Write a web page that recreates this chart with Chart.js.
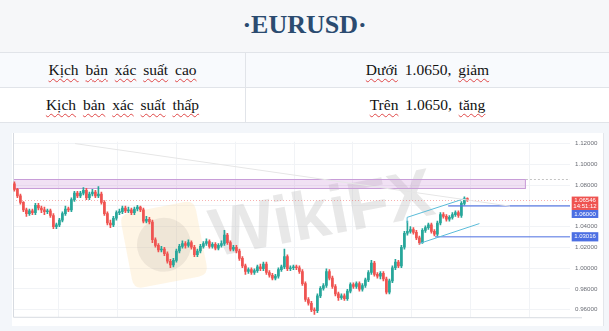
<!DOCTYPE html>
<html><head><meta charset="utf-8">
<script src="https://cdn.jsdelivr.net/npm/chart.js@4.4.1/dist/chart.umd.min.js"></script>
<style>
html,body{margin:0;padding:0;}
body{width:609px;height:331px;overflow:hidden;background:#f3f6fa;position:relative;font-family:"Liberation Serif","Times New Roman",serif;}
#title{position:absolute;left:0;top:0;width:609px;height:52px;background:#f6f7f9;text-align:center;line-height:50px;font-weight:bold;font-size:26px;color:#2b4b70;}
.row{position:absolute;left:0;width:609px;height:35px;border-top:1px solid #e1e4e9;}
.cell{position:absolute;top:0;height:35px;line-height:34px;text-align:center;font-size:15.5px;color:#111;word-spacing:3px;}
.c1{left:0;width:245px;border-right:1px solid #e1e4e9;}
.c2{left:246px;width:363px;}
.w{text-decoration:underline wavy #e04848;text-decoration-thickness:1px;text-underline-offset:3px;text-decoration-skip-ink:none;}
#bottomline{position:absolute;left:0;top:122px;width:609px;height:1px;background:#e1e4e9;}
#panel{position:absolute;left:12px;top:133px;width:592px;height:193px;background:#fff;}
</style></head>
<body>
<div id="title">·EURUSD·</div>
<div class="row" style="top:52px;background:#f8fafd;">
  <div class="cell c1"><span class="w">Kịch</span> <span class="w">bản</span> <span class="w">xác</span> <span class="w">suất</span> <span class="w">cao</span></div>
  <div class="cell c2"><span class="w">Dưới</span> 1.0650, <span class="w">giảm</span></div>
</div>
<div class="row" style="top:87px;background:#ffffff;">
  <div class="cell c1"><span class="w">Kịch</span> <span class="w">bản</span> <span class="w">xác</span> <span class="w">suất</span> <span class="w">thấp</span></div>
  <div class="cell c2"><span class="w">Trên</span> 1.0650, <span class="w">tăng</span></div>
</div>
<div id="bottomline"></div>
<div id="panel"><canvas id="c" width="592" height="193"></canvas></div>
<script>
const opens = [1.0813,1.0759,1.0696,1.0633,1.0561,1.0525,1.0552,1.0534,1.0606,1.0579,
 1.0561,1.0543,1.0552,1.0507,1.0399,1.0417,1.0462,1.0525,1.0570,1.0561,
 1.0660,1.0723,1.0696,1.0723,1.0750,1.0678,1.0714,1.0732,1.0696,1.0714,
 1.0633,1.0525,1.0435,1.0417,1.0480,1.0534,1.0543,1.0579,1.0552,1.0561,
 1.0534,1.0570,1.0588,1.0561,1.0453,1.0471,1.0444,1.0273,1.0219,1.0174,
 1.0183,1.0138,1.0066,1.0030,1.0075,1.0165,1.0210,1.0237,1.0219,1.0246,
 1.0201,1.0129,1.0165,1.0210,1.0237,1.0255,1.0210,1.0228,1.0192,1.0219,
 1.0237,1.0318,1.0246,1.0183,1.0201,1.0165,1.0093,1.0021,0.9967,0.9985,
 0.9958,0.9976,1.0012,0.9994,1.0039,0.9958,0.9931,0.9904,0.9922,0.9985,
 1.0012,1.0111,0.9994,1.0003,1.0012,1.0003,0.9967,0.9850,0.9697,0.9661,
 0.9598,0.9589,0.9733,0.9805,0.9832,0.9967,0.9904,0.9823,0.9751,0.9715,
 0.9733,0.9706,0.9778,0.9841,0.9823,0.9850,0.9796,0.9832,0.9886,0.9958,
 1.0048,0.9940,0.9922,0.9949,0.9895,0.9769,0.9877,1.0003,1.0057,1.0021,
 1.0201,1.0336,1.0354,1.0372,1.0345,1.0291,1.0246,1.0363,1.0390,1.0417,
 1.0354,1.0327,1.0435,1.0516,1.0498,1.0471,1.0489,1.0516,1.0534,1.0507,
 1.0624,1.0669];
const highs = [1.0831,1.0768,1.0714,1.0642,1.0579,1.0570,1.0570,1.0624,1.0624,1.0597,
 1.0588,1.0570,1.0570,1.0525,1.0435,1.0480,1.0543,1.0597,1.0588,1.0678,
 1.0741,1.0741,1.0741,1.0777,1.0768,1.0732,1.0759,1.0750,1.0786,1.0732,
 1.0651,1.0543,1.0462,1.0498,1.0552,1.0570,1.0597,1.0597,1.0588,1.0579,
 1.0588,1.0606,1.0597,1.0579,1.0498,1.0489,1.0462,1.0291,1.0237,1.0210,
 1.0201,1.0156,1.0084,1.0093,1.0183,1.0228,1.0264,1.0255,1.0273,1.0264,
 1.0219,1.0183,1.0228,1.0255,1.0282,1.0273,1.0246,1.0246,1.0237,1.0264,
 1.0363,1.0336,1.0264,1.0219,1.0219,1.0183,1.0111,1.0039,1.0003,1.0003,
 0.9994,1.0030,1.0039,1.0057,1.0057,0.9976,0.9949,0.9940,1.0003,1.0030,
 1.0183,1.0129,1.0021,1.0030,1.0030,1.0021,0.9985,0.9868,0.9715,0.9679,
 0.9616,0.9751,0.9823,0.9850,0.9994,0.9985,0.9922,0.9841,0.9769,0.9751,
 0.9751,0.9796,0.9859,0.9859,0.9868,0.9868,0.9850,0.9904,0.9976,1.0075,
 1.0066,0.9958,0.9967,0.9967,0.9913,0.9895,1.0021,1.0084,1.0075,1.0219,
 1.0354,1.0453,1.0399,1.0390,1.0363,1.0309,1.0381,1.0408,1.0435,1.0435,
 1.0372,1.0453,1.0534,1.0534,1.0516,1.0507,1.0534,1.0552,1.0552,1.0642,
 1.0687,1.0678];
const lows = [1.0741,1.0678,1.0615,1.0543,1.0498,1.0507,1.0516,1.0516,1.0561,1.0534,
 1.0516,1.0525,1.0489,1.0381,1.0381,1.0399,1.0444,1.0507,1.0543,1.0543,
 1.0642,1.0678,1.0678,1.0705,1.0660,1.0660,1.0696,1.0678,1.0678,1.0615,
 1.0507,1.0417,1.0390,1.0399,1.0462,1.0516,1.0525,1.0534,1.0534,1.0516,
 1.0516,1.0552,1.0543,1.0435,1.0435,1.0426,1.0246,1.0201,1.0156,1.0156,
 1.0120,1.0048,1.0003,1.0012,1.0057,1.0147,1.0192,1.0192,1.0201,1.0183,
 1.0111,1.0111,1.0147,1.0192,1.0219,1.0192,1.0192,1.0174,1.0174,1.0201,
 1.0219,1.0228,1.0165,1.0165,1.0147,1.0075,1.0003,0.9940,0.9949,0.9940,
 0.9940,0.9958,0.9976,0.9976,0.9940,0.9913,0.9886,0.9886,0.9904,0.9967,
 0.9994,0.9976,0.9976,0.9985,0.9985,0.9949,0.9832,0.9679,0.9643,0.9580,
 0.9553,0.9571,0.9715,0.9787,0.9814,0.9886,0.9805,0.9733,0.9688,0.9697,
 0.9688,0.9688,0.9760,0.9805,0.9805,0.9778,0.9778,0.9814,0.9868,0.9940,
 0.9922,0.9904,0.9895,0.9877,0.9751,0.9751,0.9859,0.9985,1.0003,1.0003,
 1.0183,1.0318,1.0336,1.0327,1.0273,1.0228,1.0237,1.0345,1.0372,1.0336,
 1.0309,1.0309,1.0417,1.0480,1.0453,1.0453,1.0471,1.0498,1.0489,1.0489,
 1.0606,1.0642];
const closes = [1.0759,1.0696,1.0633,1.0561,1.0525,1.0552,1.0534,1.0606,1.0579,1.0561,
 1.0543,1.0552,1.0507,1.0399,1.0417,1.0462,1.0525,1.0570,1.0561,1.0660,
 1.0723,1.0696,1.0723,1.0750,1.0678,1.0714,1.0732,1.0696,1.0714,1.0633,
 1.0525,1.0435,1.0417,1.0480,1.0534,1.0543,1.0579,1.0552,1.0561,1.0534,
 1.0570,1.0588,1.0561,1.0453,1.0471,1.0444,1.0273,1.0219,1.0174,1.0183,
 1.0138,1.0066,1.0030,1.0075,1.0165,1.0210,1.0237,1.0219,1.0246,1.0201,
 1.0129,1.0165,1.0210,1.0237,1.0255,1.0210,1.0228,1.0192,1.0219,1.0237,
 1.0318,1.0246,1.0183,1.0201,1.0165,1.0093,1.0021,0.9967,0.9985,0.9958,
 0.9976,1.0012,0.9994,1.0039,0.9958,0.9931,0.9904,0.9922,0.9985,1.0012,
 1.0111,0.9994,1.0003,1.0012,1.0003,0.9967,0.9850,0.9697,0.9661,0.9598,
 0.9589,0.9733,0.9805,0.9832,0.9967,0.9904,0.9823,0.9751,0.9715,0.9733,
 0.9706,0.9778,0.9841,0.9823,0.9850,0.9796,0.9832,0.9886,0.9958,1.0048,
 0.9940,0.9922,0.9949,0.9895,0.9769,0.9877,1.0003,1.0057,1.0021,1.0201,
 1.0336,1.0354,1.0372,1.0345,1.0291,1.0246,1.0363,1.0390,1.0417,1.0354,
 1.0327,1.0435,1.0516,1.0498,1.0471,1.0489,1.0516,1.0534,1.0507,1.0624,
 1.0669,1.0655];

const yTicks = [0.96, 0.98, 1.00, 1.02, 1.04, 1.06, 1.08, 1.10, 1.12];
const xGridIdx = [4.9, 24.5, 44.2, 63.9, 83.5, 103.2, 122.5, 142.2, 161.9];
const xMin = -0.47, xMax = 185.2, yMin = 0.9526, yMax = 1.1218;

const zoneTop = 1.0858, zoneBottom = 1.0770, zoneEnd = 170.5;
const lastPrice = 1.06546, lastTime = '14:51:12';
const level1 = 1.06000, level1Start = 144.6;
const level2 = 1.03016, level2Start = 140.2;
const channelUpper = [{x:130.9, y:1.0435}, {x:130.9, y:1.0489}, {x:150.0, y:1.0669}];
const channelLower = [{x:135.0, y:1.0237}, {x:155.0, y:1.0429}];
const trendLine = [{x:20.2, y:1.1200}, {x:165.2, y:1.0597}];

const UP = '#26a69a', DOWN = '#ef5350', BLUE = '#4c6fe3';
const candleColors = closes.map((c, i) => c >= opens[i] ? UP : DOWN);

function rr(ctx, x, y, w, h, r){
  ctx.beginPath();
  ctx.moveTo(x+r,y); ctx.lineTo(x+w-r,y); ctx.quadraticCurveTo(x+w,y,x+w,y+r);
  ctx.lineTo(x+w,y+h-r); ctx.quadraticCurveTo(x+w,y+h,x+w-r,y+h);
  ctx.lineTo(x+r,y+h); ctx.quadraticCurveTo(x,y+h,x,y+h-r);
  ctx.lineTo(x,y+r); ctx.quadraticCurveTo(x,y,x+r,y); ctx.closePath();
}

const decor = {
  id: 'decor',
  beforeDatasetsDraw(chart){
    const {ctx, chartArea:a, scales:{x, y}} = chart;
    ctx.save();
    ctx.beginPath(); ctx.rect(a.left, a.top, a.right-a.left, a.bottom-a.top); ctx.clip();
    // watermark logo
    ctx.save();
    ctx.translate(a.left+151, a.top+103); ctx.rotate(-0.19);
    ctx.fillStyle = 'rgba(252,222,170,0.30)';
    rr(ctx, -38, -38, 76, 76, 10); ctx.fill();
    ctx.fillStyle = 'rgba(160,150,140,0.16)';
    ctx.beginPath(); ctx.arc(0, 0, 27, 0, Math.PI*2); ctx.fill();
    ctx.restore();
    // watermark text
    ctx.save();
    ctx.translate(a.left+202, a.top+115); ctx.rotate(-0.19);
    ctx.font = 'bold 68px "Liberation Sans", Arial, sans-serif';
    ctx.fillStyle = 'rgba(190,190,190,0.36)';
    ctx.fillText('WikiFX', 0, 0);
    ctx.restore();
    // zone
    const zx2 = x.getPixelForValue(zoneEnd);
    const zy1 = y.getPixelForValue(zoneTop), zy2 = y.getPixelForValue(zoneBottom);
    ctx.fillStyle = 'rgba(206,147,216,0.28)';
    ctx.fillRect(a.left, zy1, zx2-a.left, zy2-zy1);
    ctx.strokeStyle = '#c89dd8'; ctx.lineWidth = 1;
    ctx.strokeRect(a.left+0.5, Math.round(zy1)+0.5, zx2-a.left-1, Math.round(zy2-zy1));
    // dotted extension
    ctx.setLineDash([2,2]); ctx.strokeStyle = '#c4c4c4';
    ctx.beginPath(); ctx.moveTo(zx2, Math.round(zy1)+0.5); ctx.lineTo(a.right, Math.round(zy1)+0.5); ctx.stroke();
    // last price line
    const py = Math.round(y.getPixelForValue(lastPrice))+0.5;
    ctx.strokeStyle = 'rgba(239,83,80,0.45)'; ctx.setLineDash([1,2]);
    ctx.beginPath(); ctx.moveTo(a.left, py); ctx.lineTo(a.right, py); ctx.stroke();
    ctx.restore();
    // frame
    ctx.save();
    ctx.strokeStyle = '#d7dbe1'; ctx.lineWidth = 1;
    ctx.beginPath(); ctx.moveTo(a.left+0.5, 0); ctx.lineTo(a.left+0.5, a.bottom); ctx.lineTo(a.right+12, a.bottom+0.5); ctx.stroke();
    ctx.strokeStyle = '#e3e6eb';
    ctx.beginPath(); ctx.moveTo(chart.width-0.5, 0); ctx.lineTo(chart.width-0.5, chart.height); ctx.stroke();
    ctx.restore();
  },
  afterDraw(chart){
    const {ctx, chartArea:a, scales:{y}} = chart;
    const bx = a.right + 1.7, bw = 26.6, cx = bx + bw/2;
    ctx.save();
    ctx.font = '6px "Liberation Sans", Arial, sans-serif';
    ctx.textAlign = 'center'; ctx.textBaseline = 'middle';
    const py = y.getPixelForValue(lastPrice);
    const redTop = py - 3.6, redH = 13.4;
    ctx.fillStyle = DOWN; ctx.fillRect(bx, redTop, bw, redH);
    ctx.fillStyle = '#fff';
    ctx.fillText(lastPrice.toFixed(5), cx, py);
    ctx.fillText(lastTime, cx, py + 6.4);
    const b1Top = redTop + redH, b1H = 8;
    ctx.fillStyle = BLUE; ctx.fillRect(bx, b1Top, bw, b1H);
    ctx.fillStyle = '#fff'; ctx.fillText(level1.toFixed(5), cx, b1Top + b1H/2);
    const p2 = y.getPixelForValue(level2);
    ctx.fillStyle = BLUE; ctx.fillRect(bx, p2 - 4.6, bw, 9.2);
    ctx.fillStyle = '#fff'; ctx.fillText(level2.toFixed(5), cx, p2);
    ctx.restore();
  }
};

Chart.defaults.font.family = '"Liberation Sans", Arial, sans-serif';

new Chart(document.getElementById('c'), {
  type: 'bar',
  data: {
    datasets: [
      {
        type: 'bar', label: 'wick', order: 3, grouped: false,
        data: closes.map((c, i) => ({x: i, y: [lows[i], highs[i]]})),
        backgroundColor: candleColors, barThickness: 1, borderWidth: 0
      },
      {
        type: 'bar', label: 'body', order: 2, grouped: false,
        data: closes.map((c, i) => ({x: i, y: [opens[i], c]})),
        backgroundColor: candleColors, barThickness: 2, minBarLength: 1, borderWidth: 0
      },
      {
        type: 'line', label: 'trend', order: 1, data: trendLine,
        borderColor: '#e6e6e6', borderWidth: 1, pointRadius: 0, fill: false
      },
      {
        type: 'line', label: 'channelUpper', order: 1, data: channelUpper,
        borderColor: '#5bbcd9', borderWidth: 1, pointRadius: 0, fill: false
      },
      {
        type: 'line', label: 'channelLower', order: 1, data: channelLower,
        borderColor: '#5bbcd9', borderWidth: 1, pointRadius: 0, fill: false
      },
      {
        type: 'line', label: 'level1', order: 1,
        data: [{x: level1Start, y: level1}, {x: xMax, y: level1}],
        borderColor: 'rgba(86,118,226,0.7)', borderWidth: 1.6, pointRadius: 0, fill: false
      },
      {
        type: 'line', label: 'level2', order: 1,
        data: [{x: level2Start, y: level2}, {x: xMax, y: level2}],
        borderColor: 'rgba(86,118,226,0.7)', borderWidth: 1.6, pointRadius: 0, fill: false
      }
    ]
  },
  options: {
    responsive: false, animation: false, devicePixelRatio: 1,
    layout: {padding: {left: 1, top: 2, right: 0, bottom: 0}},
    plugins: {legend: {display: false}, tooltip: {enabled: false}},
    scales: {
      x: {
        type: 'linear', min: xMin, max: xMax, offset: false,
        afterBuildTicks: s => { s.ticks = xGridIdx.map(v => ({value: v})); },
        afterFit: s => { s.height = 3; },
        grid: {color: '#f1f3f6', drawTicks: false},
        border: {display: false},
        ticks: {display: false}
      },
      y: {
        position: 'right', min: yMin, max: yMax,
        afterBuildTicks: s => { s.ticks = yTicks.map(v => ({value: v})); },
        afterFit: s => { s.width = 34; },
        grid: {color: '#f1f3f6', drawTicks: false},
        border: {display: false},
        ticks: {padding: 5, color: '#6b6e76', font: {size: 6.2}, callback: v => Number(v).toFixed(5)}
      }
    }
  },
  plugins: [decor]
});
</script>
</body></html>
